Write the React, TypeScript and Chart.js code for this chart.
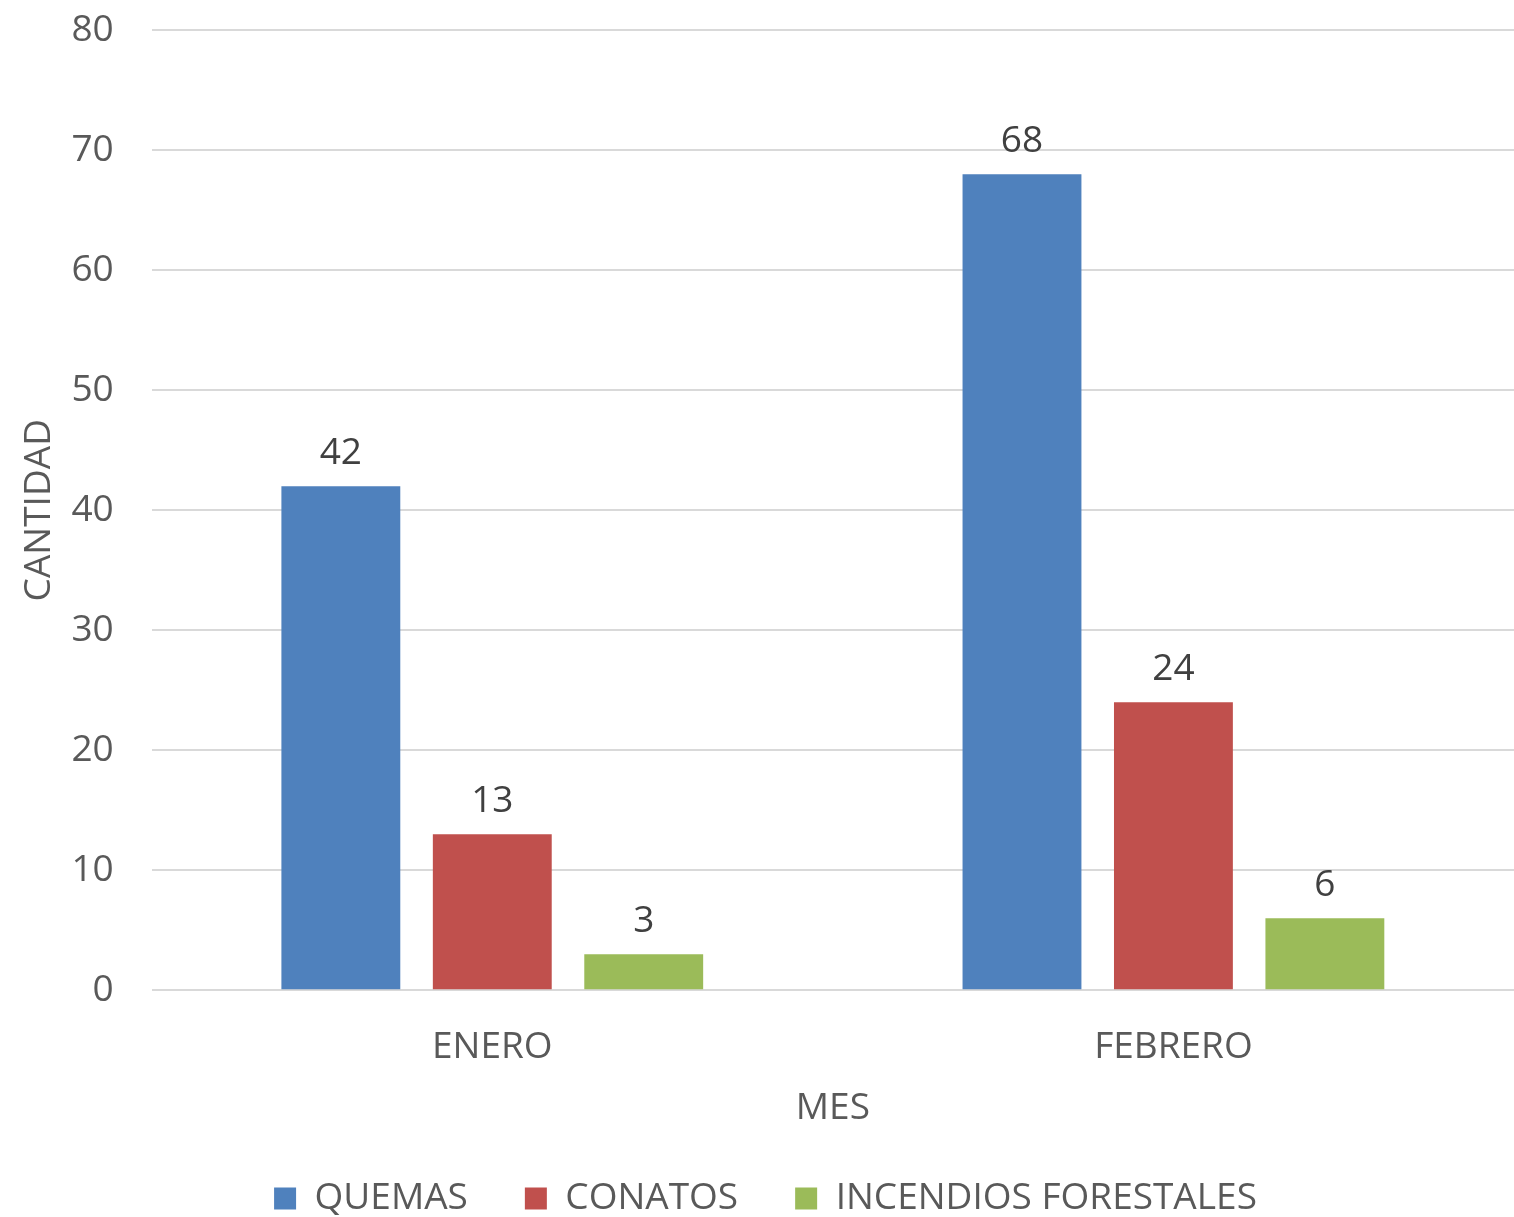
import React, { useEffect, useRef } from "react";
import { Chart, registerables } from "chart.js";

Chart.register(...registerables);

const categories = ["ENERO", "FEBRERO"];
const seriesNames = ["QUEMAS", "CONATOS", "INCENDIOS FORESTALES"];
const quemas = [42, 68];
const conatos = [13, 24];
const incendios = [3, 6];
const colors = ["#4F81BD", "#C0504D", "#9BBB59"];
const yTitle = "CANTIDAD";
const xTitle = "MES";

const FONT = "'Open Sans', sans-serif";
const FS = 37;

const dataLabels = {
  id: "dataLabels",
  afterDatasetsDraw(chart: any) {
    const ctx = chart.ctx;
    ctx.save();
    ctx.fillStyle = "#404040";
    ctx.font = `${FS}px ${FONT}`;
    ctx.textAlign = "center";
    ctx.textBaseline = "bottom";
    chart.data.datasets.forEach((ds: any, i: number) => {
      const meta = chart.getDatasetMeta(i);
      meta.data.forEach((el: any, j: number) => {
        ctx.fillText(String(ds.data[j]), el.x, el.y - 14);
      });
    });
    ctx.restore();
  },
};

export default function App() {
  const ref = useRef<HTMLCanvasElement>(null);
  useEffect(() => {
    document.body.style.margin = "0";
    const chart = new Chart(ref.current!, {
      type: "bar",
      data: {
        labels: categories,
        datasets: [quemas, conatos, incendios].map((d, i) => ({
          label: seriesNames[i],
          data: d,
          backgroundColor: colors[i],
          categoryPercentage: 0.667,
          barPercentage: 0.785,
        })),
      },
      options: {
        responsive: false,
        animation: false,
        layout: { padding: { top: 0, right: 0, left: 17, bottom: -10 } },
        plugins: {
          legend: {
            position: "bottom",
            labels: {
              font: { family: FONT, size: FS },
              color: "#595959",
              boxWidth: 22,
              boxHeight: 22,
              padding: 57,
            },
          },
          tooltip: { enabled: false },
        },
        scales: {
          x: {
            grid: { display: false },
            border: { display: false },
            ticks: { font: { family: FONT, size: FS }, color: "#595959", padding: 27 },
            title: {
              display: true,
              text: xTitle,
              font: { family: FONT, size: FS },
              color: "#595959",
              padding: { top: -10, bottom: -8 },
            },
          },
          y: {
            min: 0,
            max: 80,
            ticks: { stepSize: 10, font: { family: FONT, size: FS }, color: "#595959", padding: 8 },
            grid: {
              color: "#D9D9D9",
              lineWidth: 2,
              drawTicks: true,
              tickLength: 30,
              tickColor: "rgba(0,0,0,0)",
            },
            border: { display: false },
            title: {
              display: true,
              text: yTitle,
              font: { family: FONT, size: FS },
              color: "#595959",
              padding: { top: 0, bottom: 2 },
            },
          },
        },
      },
      plugins: [dataLabels],
    });
    return () => chart.destroy();
  }, []);
  return <canvas ref={ref} width={1514} height={1217} style={{ display: "block" }} />;
}
